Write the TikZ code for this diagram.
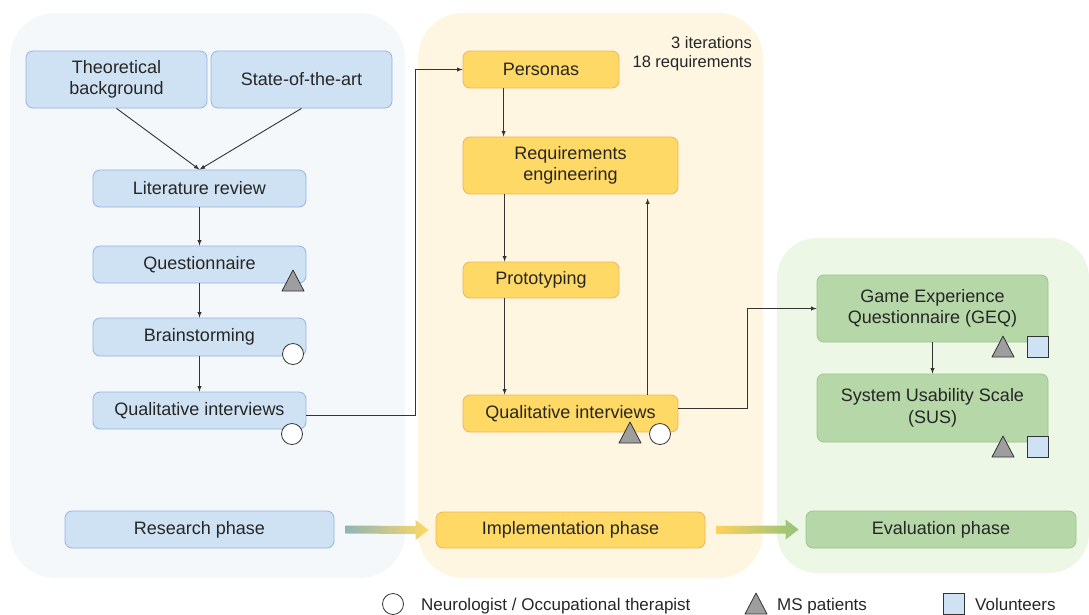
\documentclass[tikz,border=0pt]{standalone}
\usepackage{fontspec}
\setmainfont{Liberation Sans}
\usetikzlibrary{calc}
\definecolor{bluebg}{HTML}{F5F8FB}
\definecolor{yellowbg}{HTML}{FFF6E2}
\definecolor{greenbg}{HTML}{EDF7E6}
\definecolor{bluefill}{HTML}{CFE2F3}
\definecolor{blueline}{HTML}{94B3E6}
\definecolor{yellowfill}{HTML}{FFD966}
\definecolor{yellowline}{HTML}{F0B45A}
\definecolor{greenfill}{HTML}{B6D7A8}
\definecolor{greenline}{HTML}{9CC58A}
\definecolor{inkgray}{HTML}{333333}
\definecolor{arrowgreen}{HTML}{93C47D}
\definecolor{arrowteal}{HTML}{8FB5B5}
\def\patient(#1,#2){\draw[patient] (#1-11,#2+10) -- (#1+11,#2+10) -- (#1,#2-11) -- cycle;}
\def\neuro(#1,#2){\draw[neuro] (#1,#2) circle (10.5pt);}
\def\volunteer(#1,#2){\draw[volunteer] (#1-10.5,#2-10.5) rectangle (#1+10.5,#2+10.5);}
\def\phasearrow(#1)(#2)(#3:#4){\shade[left color=#3, right color=#4] ($(#1.east)+(11,4)$) -- ($(#2.west)+(-20,4)$) -- ($(#2.west)+(-20,10)$) -- ($(#2.west)+(-7,0)$) -- ($(#2.west)+(-20,-10)$) -- ($(#2.west)+(-20,-4)$) -- ($(#1.east)+(11,-4)$) -- cycle;}

\begin{document}
\begin{tikzpicture}[x=1pt, y=-1pt,
	txt/.style={font=\fontsize{18}{21.5}\selectfont, text=black!85, align=center, inner sep=0pt},
	bluebox/.style={txt, draw=blueline, fill=bluefill, rounded corners=7pt, line width=0.8pt},
	yellowbox/.style={txt, draw=yellowline, fill=yellowfill, rounded corners=7pt, line width=0.8pt},
	greenbox/.style={txt, draw=greenline, fill=greenfill, rounded corners=7pt, line width=0.8pt},
	legend/.style={txt, anchor=base west, font=\fontsize{17}{20}\selectfont},
	conn/.style={draw=inkgray, line width=0.9pt, -latex},
	patient/.style={draw=inkgray, fill=black!38, line width=0.8pt, line join=round},
	neuro/.style={draw=inkgray, fill=white, line width=0.8pt},
	volunteer/.style={draw=inkgray, fill=bluefill, line width=0.8pt}]
			%%%%% START %%%%%
			\useasboundingbox (0,0) rectangle (1089,614);
			
			\fill[bluebg, rounded corners=45pt] (10,13) rectangle (405,578);
			\fill[yellowbg, rounded corners=45pt] (418,13) rectangle (763,578);
			\fill[greenbg, rounded corners=40pt] (777,238) rectangle (1089,573);
			
			% research phase
			\node[bluebox, minimum width=181, minimum height=57] (theo) at (116.5,79.5) {Theoretical\\background};
			\node[bluebox, minimum width=181, minimum height=57] (sota) at (301.5,79.5) {State-of-the-art};
			\node[bluebox, minimum width=213, minimum height=37] (lit) at (199.5,188.5) {Literature review};
			\node[bluebox, minimum width=213, minimum height=37] (quest) at (199.5,264.5) {Questionnaire};
			\node[bluebox, minimum width=213, minimum height=38] (brain) at (199.5,337) {Brainstorming};
			\node[bluebox, minimum width=213, minimum height=37] (qualA) at (199.5,410.5) {Qualitative interviews};
			\node[bluebox, minimum width=269, minimum height=37] (research) at (199.5,529.5) {Research phase};
			
			\draw[conn] (theo.south) -- (lit.north);
			\draw[conn] (sota.south) -- (lit.north);
			\draw[conn] (lit) -- (quest);
			\draw[conn] (quest) -- (brain);
			\draw[conn] (brain) -- (qualA);
			
			\patient(293,281)
			\neuro(293,354)
			\neuro(292,434)
			
			% implementation phase
			\node[yellowbox, minimum width=156, minimum height=37] (pers) at (541,69.5) {Personas};
			\node[yellowbox, minimum width=215, minimum height=57] (req) at (570.5,165.5) {Requirements\\engineering};
			\node[yellowbox, minimum width=156, minimum height=36] (proto) at (541,280) {Prototyping};
			\node[yellowbox, minimum width=215, minimum height=37] (qualB) at (570.5,413.5) {Qualitative interviews};
			\node[yellowbox, minimum width=269, minimum height=36] (impl) at (570.5,530) {Implementation phase};
			\node[txt, align=right, anchor=north east, font=\fontsize{16.5}{19.5}\selectfont] (iter) at (752,36) {3 iterations\\18 requirements};
			
			\draw[conn] ([yshift=-4.5pt]qualA.east) -- ++(109,0) |- (pers.west);
			\draw[conn] ([xshift=41pt]pers.south west) -- ([xshift=41pt]req.north west);
			\draw[conn] ([xshift=42pt]req.south west) -- ([xshift=42pt]proto.north west);
			\draw[conn] ([xshift=42pt]proto.south west) -- ([xshift=42pt]qualB.north west);
			\draw[conn, shorten >=4pt] ([xshift=185pt]qualB.north west) -- ([xshift=185pt]req.south west);
			
			\patient(630,433)
			\neuro(660,434)
			
			% evaluation phase
			\node[greenbox, minimum width=231, minimum height=67] (geq) at (932.5,308.5) {Game Experience\\Questionnaire (GEQ)};
			\node[greenbox, minimum width=231, minimum height=68] (sus) at (932.5,408) {System Usability Scale\\(SUS)};
			\node[greenbox, minimum width=270, minimum height=37] (eval) at (941,529.5) {Evaluation phase};
			
			\draw[conn] ([yshift=5pt]qualB.east) -- ++(69,0) |- (geq.west);
			\draw[conn] (geq) -- (sus);
			
			\patient(1003,347)
			\volunteer(1037.5,347)
			\patient(1003,447)
			\volunteer(1037.5,447)
			
			% phase arrows
			\phasearrow(research)(impl)(arrowteal:yellowfill)
			\phasearrow(impl)(eval)(yellowfill!90!orange:arrowgreen)
			
			% legend
			\neuro(393,604)
			\node[legend] (legneuro) at (421,610) {Neurologist / Occupational therapist};
			\patient(756,604)
			\node[legend] (legms) at (777,610) {MS patients};
			\volunteer(953.5,604)
			\node[legend] (legvol) at (975,610) {Volunteers};
			%%%%% END %%%%%
\end{tikzpicture}
\end{document}
